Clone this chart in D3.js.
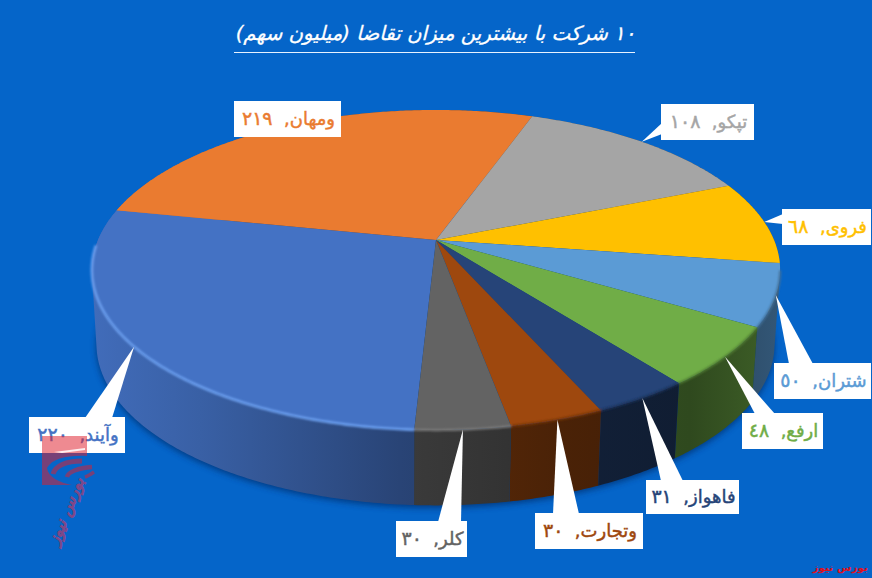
<!DOCTYPE html>
<html lang="fa"><head><meta charset="utf-8">
<script src="https://cdn.jsdelivr.net/npm/d3@7/dist/d3.min.js"></script>
<style>html,body{margin:0;padding:0;background:#0565c9;overflow:hidden}svg{display:block}text{font-family:"DejaVu Sans",sans-serif}</style>
</head><body><svg id="c" width="872" height="578" viewBox="0 0 872 578"></svg>
<script>
const names = ["وآیند","ومهان","تپکو","فروی","شتران","ارفع","فاهواز","وتجارت","کلر"];
const values = [220,219,108,68,50,48,31,30,30];
const colors = ["#4472C4","#EA7B30","#A5A5A5","#FFC000","#5B9BD5","#70AD47","#264478","#9E480E","#636363"];
const titleDigits = "۱۰";
const titleText = "شرکت با بیشترین میزان تقاضا (میلیون سهم)";
const sourceText = "بورس نیوز";
const watermarkText = "بورس نیوز";
// label box layout: left, top, width, height, pointer base from, pointer base to, base side
const boxes = [
 [29,417,96,36, 85,112,"top"],
 [234,101,107,36, 290,320,"bottom"],
 [661,104,93,36, 123,134,"left"],
 [782,209,89,36, 214,224,"left"],
 [774,363,97,36, 789,813,"top"],
 [742,413,81,36, 755,775,"top"],
 [646,480,93,34, 661,683,"top"],
 [535,513,108,36, 553,579,"top"],
 [396,521,71,36, 438,461,"top"]
];

const svg = d3.select("#c");
const W = 872, H = 578, BG = "#0565c9";
svg.append("rect").attr("width",W).attr("height",H).attr("fill",BG);
const defs = svg.append("defs");
[["b3",3],["b1",1.1]].forEach(([id,s])=>defs.append("filter").attr("id",id).attr("x","-10%").attr("y","-10%").attr("width","120%").attr("height","120%")
  .append("feGaussianBlur").attr("stdDeviation",s));

// perspective projection of the disc
const k = 0.1875;
function projector(cx, cy, R, Hh){
  return a => { const u=Math.sin(a), v=-Math.cos(a), w=1-k*v; return [cx+R*u/w, cy+Hh*v/w]; };
}
const topP = projector(436,240,338,154.4);
const botP = projector(435.5,314,333,155.5);
const deg = Math.PI/180;
const start = Math.PI + 3*deg;
const arcs = d3.pie().sort(null).startAngle(start).endAngle(start+2*Math.PI)(values);
const arcPts = (p,a0,a1) => { const n=Math.max(4,Math.ceil((a1-a0)/0.01)); return d3.range(n+1).map(i=>p(a0+(a1-a0)*i/n)); };
const line = d3.line();

// shadow beneath the body
svg.append("path").attr("d", line(arcPts(botP,0,2*Math.PI))+"Z")
  .attr("fill","#012a66").attr("opacity",.7).attr("transform","translate(0,2.5)").attr("filter","url(#b3)");

// side walls: swept quads, each wound the same way so the silhouette is the full sweep
const shade = d3.scaleLinear().domain([92,200,400,560,690,780]).range([.95,.84,.6,.47,.42,.56]);
const mul = (c,f)=>{const r=d3.rgb(c);return d3.rgb(r.r*f,r.g*f,r.b*f).formatHex();};
arcs.forEach((d,i)=>{
  const g = defs.append("linearGradient").attr("id","s"+i).attr("gradientUnits","userSpaceOnUse").attr("x1",92).attr("x2",780).attr("y1",0).attr("y2",0);
  shade.domain().forEach(x=>g.append("stop").attr("offset",(x-92)/688).attr("stop-color",mul(colors[i],shade(x))));
});
const wallPath = d => {
  const t = arcPts(topP,d.startAngle,d.endAngle), b = arcPts(botP,d.startAngle,d.endAngle);
  return d3.range(t.length-1).map(j=>{
    const q=[t[j],t[j+1],b[j+1],b[j]];
    return line(d3.polygonArea(q)<0 ? q.slice().reverse() : q)+"Z";
  }).join("");
};
svg.append("g").selectAll("path").data(arcs).join("path")
  .attr("d",wallPath)
  .attr("fill",(d,i)=>`url(#s${i})`);

// top face
svg.append("g").selectAll("path").data(arcs).join("path")
  .attr("d",d=>line([[436,240]].concat(arcPts(topP,d.startAngle,d.endAngle)))+"Z")
  .attr("fill",(d,i)=>colors[i]);

// soft rim on the front half of the disc
const frontSpans = [[101*deg,268*deg],[461*deg,628*deg]];
const rimRange = d => {
  for (const [f0,f1] of frontSpans) {
    const a0=Math.max(d.startAngle,f0), a1=Math.min(d.endAngle,f1);
    if (a1>a0) return [a0,a1];
  }
  return null;
};
const rimColor = i => i===0 ? "#6C9FEE" : i===8 ? "#7a7a7a" : mul(colors[i],.72);
svg.append("g").attr("filter","url(#b1)").selectAll("path").data(arcs.filter(rimRange)).join("path")
  .attr("d",d=>{const r=rimRange(d);return line(arcPts(topP,r[0],r[1]));})
  .attr("fill","none").attr("stroke-width",d=>d.index===0?2.6:2.2)
  .attr("stroke",d=>rimColor(d.index));

// callouts
const digits = "٠١٢٣٤٥٦٧٨٩";
const toDigits = v => String(v).replace(/\d/g,c=>digits[+c]);
const labels = svg.append("g").selectAll("g").data(arcs).join("g");
labels.append("path").attr("fill","#fff").attr("d",(d,i)=>{
  const [x,y,w,h,b0,b1,side]=boxes[i];
  const tip=topP((d.startAngle+d.endAngle)/2);
  let pts;
  if(side==="top") pts=[tip,[b0,y+1],[b1,y+1]];
  else if(side==="bottom") pts=[tip,[b0,y+h-1],[b1,y+h-1]];
  else pts=[tip,[x+1,b0],[x+1,b1]];
  return line(pts)+"Z";
});
labels.append("rect").attr("fill","#fff")
  .attr("x",(d,i)=>boxes[i][0]).attr("y",(d,i)=>boxes[i][1])
  .attr("width",(d,i)=>boxes[i][2]).attr("height",(d,i)=>boxes[i][3]);
const lt = labels.append("text")
  .attr("x",(d,i)=>boxes[i][0]+boxes[i][2]/2+1).attr("y",(d,i)=>boxes[i][1]+boxes[i][3]/2+6)
  .attr("text-anchor","middle").attr("direction","rtl").attr("font-size",18)
  .attr("fill",(d,i)=>colors[i]).attr("stroke",(d,i)=>colors[i]).attr("stroke-width",.45);
lt.append("tspan").text((d,i)=>`${names[i]},\u00A0\u00A0`);
lt.append("tspan").attr("font-size",19).attr("letter-spacing",.8).text((d,i)=>toDigits(values[i]));

// title
const tt = svg.append("text").attr("x",435.5).attr("y",40).attr("text-anchor","middle").attr("direction","rtl")
  .attr("font-size",19.8).attr("font-style","italic").attr("fill","#fff").attr("stroke","#fff").attr("stroke-width",.3);
tt.append("tspan").attr("letter-spacing",-2.5).text(titleDigits);
tt.append("tspan").text(" "+titleText);
svg.append("line").attr("x1",234).attr("x2",635).attr("y1",52.5).attr("y2",52.5).attr("stroke","#e8f2ff").attr("stroke-width",1);

// watermark
const WM = "#e0202e";
const wm = svg.append("g").attr("opacity",.52);
wm.append("path").attr("fill",WM)
  .attr("d","M42,436H87V456C70,455 52,458 47,468C48,477 60,483 72,485H42Z");
[["M53,474C55,466 66,461 82,461",5],["M67,477C68,472 78,468 92,467",4.5],["M85,477C88,476 91,474 94,472",3.5]].forEach(([p,sw])=>
  wm.append("path").attr("fill","none").attr("stroke",WM).attr("stroke-width",sw).attr("d",p));
svg.append("path").attr("fill","#fff").attr("opacity",.85).attr("d","M54,452L85,448V450L62,453Z");
svg.append("text").attr("transform","translate(71,513) rotate(-68)").attr("text-anchor","middle").attr("direction","rtl")
  .attr("font-size",16).attr("font-weight",700).attr("font-style","italic").attr("fill","#8a4480").attr("stroke","#7a4a8c").attr("stroke-width",.4).text(watermarkText);

// source mark
svg.append("text").attr("x",868).attr("y",571).attr("text-anchor","start").attr("direction","rtl")
  .attr("font-size",10.5).attr("font-weight",700).attr("fill","#e0101e").text(sourceText);
</script></body></html>
